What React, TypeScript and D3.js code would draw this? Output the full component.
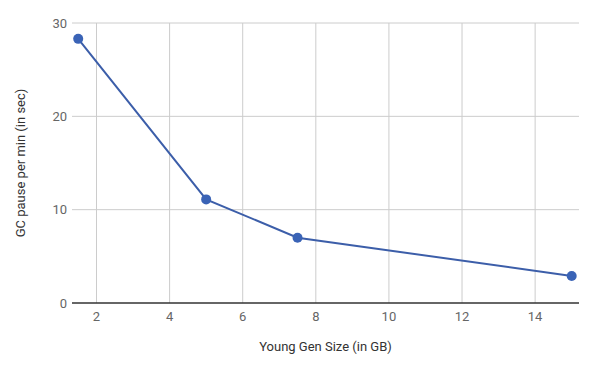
import React from 'react'
import * as d3 from 'd3'

const youngGenSize = [1.5, 5, 7.5, 15]
const gcPause = [28.3, 11.1, 7.0, 2.9]
const xTicks = [2, 4, 6, 8, 10, 12, 14]
const yTicks = [0, 10, 20, 30]

const W = 594
const H = 368
const margin = { left: 72, right: 15, top: 23, bottom: 65 }

export default function App() {
  const x = d3.scaleLinear().domain([1.33, 15.2]).range([margin.left, W - margin.right])
  const y = d3.scaleLinear().domain([0, 30]).range([H - margin.bottom, margin.top])

  const pts = youngGenSize.map((v, i) => [v, gcPause[i]] as [number, number])
  const line = d3.line<[number, number]>().x(d => x(d[0])).y(d => y(d[1]))

  const font = 'Roboto, Arial, sans-serif'

  return (
    <svg width={W} height={H} style={{ position: 'absolute', left: 0, top: 0, background: '#fff' }}>
      {/* grid */}
      {xTicks.map(t => (
        <line key={'gx' + t} x1={x(t)} x2={x(t)} y1={y(30)} y2={y(0)} stroke="#cccccc" strokeWidth={1} />
      ))}
      {yTicks.filter(t => t !== 0).map(t => (
        <line key={'gy' + t} x1={margin.left} x2={W - margin.right} y1={y(t)} y2={y(t)} stroke="#cccccc" strokeWidth={1} />
      ))}
      {/* baseline */}
      <line x1={margin.left} x2={W - margin.right} y1={y(0)} y2={y(0)} stroke="#333" strokeWidth={1.5} />

      {/* ticks */}
      {xTicks.map(t => (
        <text key={'tx' + t} x={x(t)} y={y(0) + 18} textAnchor="middle" fontFamily={font} fontSize={13} fill="#666">{t}</text>
      ))}
      {yTicks.map(t => (
        <text key={'ty' + t} x={margin.left - 5} y={y(t) + 4.5} textAnchor="end" fontFamily={font} fontSize={13} fill="#666">{t}</text>
      ))}

      {/* series */}
      <path d={line(pts) || ''} fill="none" stroke="#3c5ea9" strokeWidth={2} />
      {pts.map((p, i) => (
        <circle key={i} cx={x(p[0])} cy={y(p[1])} r={5} fill="#3a63b6" />
      ))}

      {/* titles */}
      <text x={(margin.left + W - margin.right) / 2} y={351} textAnchor="middle" fontFamily={font} fontSize={13} fill="#333">Young Gen Size (in GB)</text>
      <text transform={`translate(25,${(y(0) + y(30)) / 2}) rotate(-90)`} textAnchor="middle" fontFamily={font} fontSize={13} fill="#333">GC pause per min (in sec)</text>
    </svg>
  )
}
